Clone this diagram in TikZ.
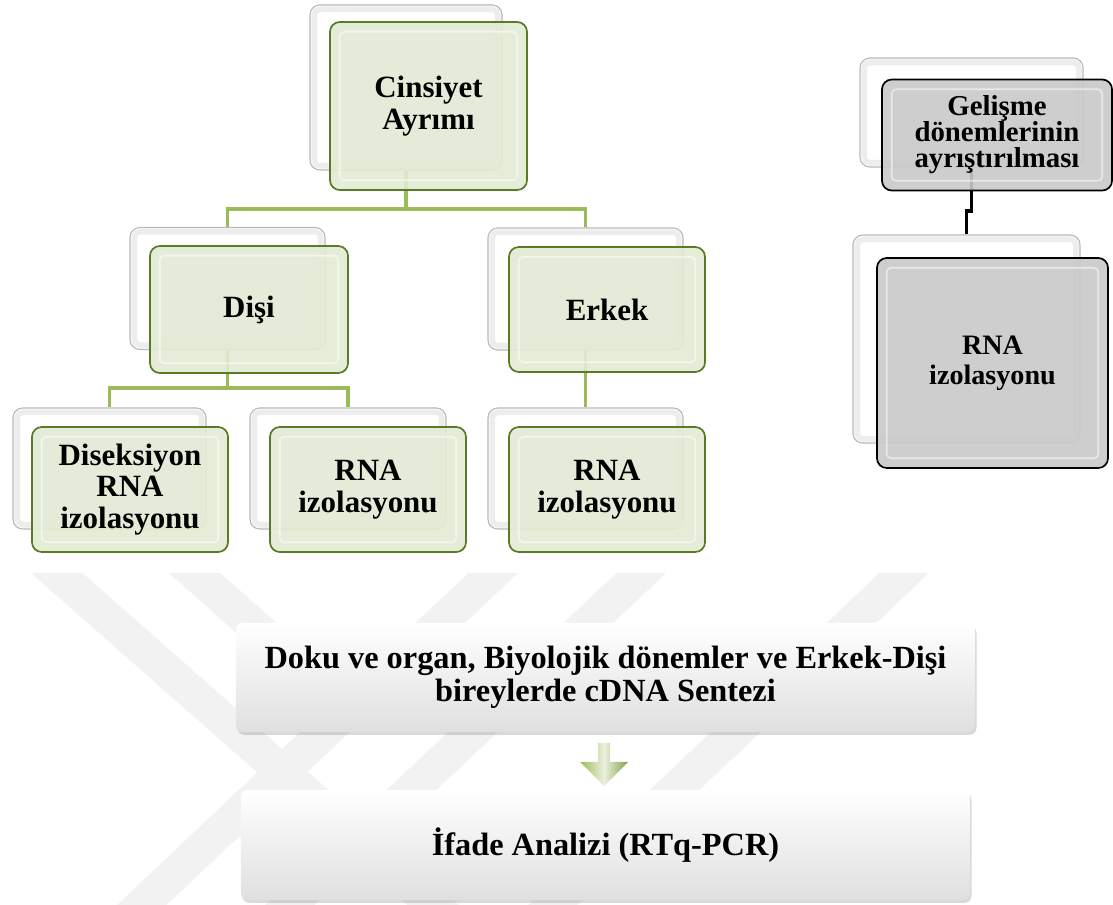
\documentclass[tikz,border=0pt]{standalone}
\usepackage{fontspec}
\setmainfont{Liberation Serif}
\usepackage{tikz}
\usetikzlibrary{calc,positioning,shapes.arrows,shadows}

\definecolor{linkgreen}{HTML}{9BBB59}
\definecolor{boxgreen}{HTML}{E2EBD5}
\definecolor{rimgreen}{HTML}{5A7A26}
\definecolor{boxgray}{HTML}{C9C9C9}
\definecolor{wmgray}{HTML}{F2F2F2}
\definecolor{arrlight}{HTML}{EBF1DE}

\tikzset{
  backbox/.style={draw=gray!55, line width=.8pt, fill=white, rounded corners=7pt, inner sep=0pt,
    path picture={\draw[gray!14, line width=4pt, rounded corners=4pt]
      ($(path picture bounding box.south west)+(3pt,3pt)$) rectangle ($(path picture bounding box.north east)-(3pt,3pt)$);}},
  frontbox/.style={line width=1.2pt, rounded corners=7pt, fill opacity=.9, text opacity=1,
    align=center, inner sep=2pt, font=\fontsize{22}{22.5}\selectfont\bfseries,
    path picture={\draw[white, opacity=.55, line width=1.2pt, rounded corners=3pt]
      ($(path picture bounding box.south west)+(7pt,7pt)$) rectangle ($(path picture bounding box.north east)-(7pt,7pt)$);}},
  greenbox/.style={frontbox, draw=rimgreen, fill=boxgreen},
  graybox/.style={frontbox, draw=black, fill=boxgray},
  widebox/.style={top color=white, bottom color=gray!25, rounded corners=5pt,
    drop shadow={opacity=.3, shadow xshift=1pt, shadow yshift=-2pt},
    align=center, font=\fontsize{23}{23.5}\selectfont\bfseries},
  link/.style={draw=linkgreen, line width=2.8pt},
  darklink/.style={draw=black, line width=2.8pt},
  wm/.style={draw=wmgray, line width=.85cm},
}

\begin{document}
\begin{tikzpicture}[x=0.025cm,y=-0.025cm]
\useasboundingbox (0,0) rectangle (1113,904);
% watermark
\begin{scope}
\clip (0,573) rectangle (1113,904);
\draw[wm] (42,560) -- (448,918);
\draw[wm] (180,560) -- (349,710);
\draw[wm] (507,560) -- (128,918);
\draw[wm] (655,560) -- (276,918);
\draw[wm] (918,560) -- (539,918);
\end{scope}

% back boxes
\node[backbox, minimum width=4.8cm, minimum height=4.125cm] (cinsB) at (406,87.5) {};
\node[backbox, minimum width=4.875cm, minimum height=3.05cm] (disiB) at (227.5,288.5) {};
\node[backbox, minimum width=4.875cm, minimum height=3.05cm] (erkB) at (585.5,289) {};
\node[backbox, minimum width=4.825cm, minimum height=3.025cm] (disB) at (109.5,468.5) {};
\node[backbox, minimum width=4.9cm, minimum height=3.025cm] (rna1B) at (348,468.5) {};
\node[backbox, minimum width=4.875cm, minimum height=3.025cm] (rna2B) at (585.5,468.5) {};
\node[backbox, minimum width=5.575cm, minimum height=2.725cm] (gelB) at (971.5,112.5) {};
\node[backbox, minimum width=5.675cm, minimum height=5.2cm] (rnagB) at (966.5,339) {};

% connectors
\draw[link] (cinsB.south) -- ++(0,38) -| (disiB.north);
\draw[link] (cinsB.south) -- ++(0,38) -| (erkB.north);
\draw[link] (disiB.south) -- ++(0,38) -| (disB.north);
\draw[link] (disiB.south) -- ++(0,38) -| (rna1B.north);
\draw[link] (erkB.south) -- (rna2B.north);
\draw[darklink] (gelB.south) -- ++(0,43) -| (rnagB.north);

% front boxes
\node[greenbox, minimum width=4.925cm, minimum height=4.2cm] (cinsF) at (428.5,106) {Cinsiyet\\Ayrımı};
\node[greenbox, minimum width=4.95cm, minimum height=3.175cm] (disiF) at (249,309.5) {Dişi};
\node[greenbox, minimum width=4.9cm, minimum height=3.125cm] (erkF) at (607,309.5) {Erkek};
\node[greenbox, minimum width=4.9cm, minimum height=3.125cm] (disF) at (130,489.5) {Diseksiyon\\RNA\\izolasyonu};
\node[greenbox, minimum width=4.9cm, minimum height=3.125cm] (rna1F) at (368,489.5) {RNA\\izolasyonu};
\node[greenbox, minimum width=4.9cm, minimum height=3.125cm] (rna2F) at (607,489.5) {RNA\\izolasyonu};
\node[graybox, minimum width=5.75cm, minimum height=2.775cm,
  font=\fontsize{20.5}{18.5}\selectfont\bfseries] (gelF) at (997,135) {Gelişme\\dönemlerinin\\ayrıştırılması};
\node[graybox, minimum width=5.775cm, minimum height=5.25cm,
  font=\fontsize{20}{21.5}\selectfont\bfseries] (rnagF) at (992.5,363) {RNA\\izolasyonu};

% synthesis and analysis
\node[widebox, minimum width=18.475cm, minimum height=2.725cm] (doku) at (605.5,677.5)
  {Doku ve organ, Biyolojik dönemler ve Erkek-Dişi\\bireylerde cDNA Sentezi};
\node[widebox, minimum width=18.225cm, minimum height=2.75cm] (ifade) at (605.5,845)
  {İfade Analizi (RTq-PCR)};
\node[single arrow, shape border rotate=270, draw=none, minimum height=1.075cm,
  minimum width=1.2cm, single arrow head extend=0.375cm, single arrow head indent=0pt,
  left color=linkgreen, right color=linkgreen!85!black, middle color=arrlight] (arr) at (604,761.5) {};
\end{tikzpicture}
\end{document}
